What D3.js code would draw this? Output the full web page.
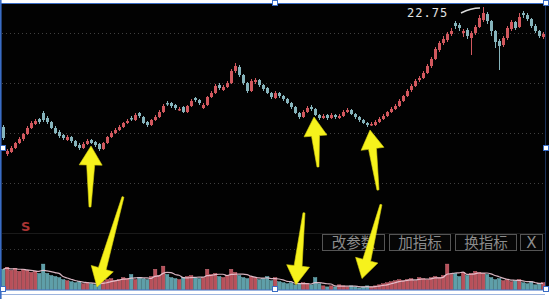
<!DOCTYPE html>
<html><head><meta charset="utf-8">
<script src="https://cdn.jsdelivr.net/npm/d3@7"></script>
<style>html,body{margin:0;padding:0;background:#000;overflow:hidden}</style>
</head><body><svg id="c" width="549" height="299"></svg>
<script>
const opens=[16.75,15.40,15.50,15.70,15.95,16.15,16.40,16.70,16.90,17.15,
17.45,17.20,17.00,16.70,16.50,16.35,16.10,16.25,16.05,15.85,
15.70,15.90,16.10,16.00,15.90,15.65,15.95,16.25,16.45,16.60,
16.75,16.95,17.20,17.10,17.45,17.25,17.00,16.85,17.10,17.25,
17.50,17.95,17.95,17.85,17.60,17.75,17.50,17.80,18.20,18.10,
17.70,17.85,18.25,18.45,18.85,18.60,18.75,18.95,19.55,19.75,
19.35,18.95,18.55,19.00,19.10,18.85,18.70,18.45,18.20,18.45,
18.30,18.15,17.95,17.75,17.45,17.25,17.50,17.75,17.65,17.35,
17.20,17.35,17.20,17.35,17.20,17.30,17.50,17.60,17.40,17.25,
17.10,16.95,16.85,16.85,17.00,17.15,17.30,17.50,17.65,17.80,
18.05,18.30,18.60,18.80,19.10,19.20,19.45,19.80,20.15,20.60,
20.95,21.10,21.40,21.95,21.85,21.45,21.60,21.20,21.45,21.75,
22.10,22.40,22.05,21.55,21.05,20.85,21.20,21.65,22.00,21.75,
22.45,22.35,22.15,21.80,21.55,21.25];
const closes=[16.20,15.55,15.70,15.95,16.15,16.40,16.70,16.95,17.05,17.00,
17.10,17.00,16.70,16.45,16.30,16.20,16.25,16.05,15.80,15.70,
15.90,16.05,15.95,15.85,15.65,15.95,16.25,16.45,16.60,16.75,
16.95,17.05,17.15,17.35,17.30,16.95,16.85,17.10,17.25,17.50,
17.80,17.90,17.80,17.70,17.65,17.50,17.80,18.05,18.10,17.95,
17.85,18.25,18.45,18.80,18.70,18.75,18.95,19.55,19.80,19.35,
18.95,18.55,19.05,19.10,18.85,18.65,18.45,18.25,18.45,18.30,
18.15,17.95,17.75,17.45,17.25,17.50,17.70,17.65,17.35,17.20,
17.30,17.20,17.35,17.25,17.30,17.50,17.60,17.40,17.25,17.10,
16.95,16.85,16.90,17.00,17.15,17.30,17.50,17.65,17.80,18.05,
18.30,18.55,18.80,19.05,19.20,19.45,19.80,20.15,20.65,20.95,
21.15,21.40,21.55,21.80,21.70,21.55,21.30,21.45,21.75,22.20,
22.45,22.05,21.55,21.00,20.80,21.20,21.70,22.00,21.70,22.25,
22.35,22.15,21.80,21.55,21.30,21.40];
const highs=[16.85,15.65,15.80,16.00,16.25,16.45,16.80,17.05,17.15,17.20,
17.55,17.30,17.05,16.80,16.60,16.40,16.35,16.30,16.10,15.95,
16.00,16.15,16.15,16.05,15.95,16.00,16.30,16.55,16.70,16.85,
17.00,17.15,17.30,17.45,17.50,17.30,17.05,17.15,17.35,17.60,
17.90,18.05,18.00,17.90,17.75,17.80,17.85,18.15,18.25,18.15,
17.95,18.30,18.55,18.90,18.95,18.85,19.05,19.65,19.95,19.85,
19.40,19.00,19.15,19.20,19.15,18.90,18.75,18.50,18.55,18.50,
18.35,18.20,18.00,17.80,17.50,17.60,17.80,17.85,17.70,17.40,
17.40,17.40,17.45,17.40,17.40,17.60,17.70,17.65,17.45,17.30,
17.15,17.00,17.00,17.10,17.25,17.40,17.55,17.75,17.90,18.15,
18.35,18.65,18.90,19.15,19.30,19.55,19.90,20.25,20.75,21.05,
21.30,21.50,21.70,22.05,21.95,21.65,21.70,21.55,21.85,22.35,
22.75,22.50,22.10,21.60,21.15,21.30,21.80,22.10,22.05,22.45,
22.55,22.45,22.20,21.90,21.60,21.50];
const lows=[16.10,15.30,15.45,15.65,15.90,16.05,16.35,16.65,16.85,16.90,
17.00,16.90,16.65,16.40,16.20,16.10,16.05,15.95,15.75,15.60,
15.65,15.85,15.90,15.75,15.55,15.60,15.90,16.20,16.40,16.55,
16.70,16.90,17.05,17.05,17.20,16.90,16.75,16.80,17.05,17.20,
17.45,17.80,17.70,17.60,17.55,17.45,17.45,17.75,18.00,17.85,
17.65,17.80,18.20,18.40,18.60,18.55,18.70,18.90,19.45,19.25,
18.85,18.45,18.50,18.90,18.75,18.55,18.40,18.15,18.15,18.20,
18.05,17.90,17.65,17.40,17.15,17.20,17.45,17.55,17.30,17.10,
17.15,17.10,17.15,17.15,17.15,17.25,17.45,17.35,17.15,17.00,
16.90,16.75,16.80,16.80,16.95,17.10,17.25,17.45,17.60,17.75,
18.00,18.25,18.50,18.75,19.00,19.15,19.40,19.70,20.10,20.50,
20.85,21.00,21.30,21.65,21.55,21.25,21.15,20.35,21.35,21.70,
22.00,21.90,21.30,20.70,19.60,20.75,21.10,21.55,21.60,21.70,
22.20,22.05,21.70,21.45,21.20,21.15];
const volumes=[20,22,19,21,18,20,19,17,18,16,
25,16,14,13,12,10,9,8,7,8,
6,7,6,5,6,8,10,11,9,10,
12,11,15,10,12,11,10,13,20,14,
23,15,12,11,10,12,13,14,12,11,
12,20,15,16,13,12,14,20,17,14,
12,11,13,12,10,11,13,9,12,8,
7,6,7,5,6,7,6,5,12,6,
4,3,4,3,5,4,3,4,3,2,
3,4,3,4,5,6,7,8,9,10,
9,10,11,9,12,11,10,12,13,12,
14,25,15,16,13,17,14,16,18,17,
16,15,12,10,11,9,10,8,9,10,
7,6,8,5,6,7];
const highLabel="22.75";
const buttonLabels=["改参数","加指标","换指标","X"];
const signalLabel="S";
// arrow annotations: tip at [candle index, value] in price or volume panel
const arrowPanels=["price","volume","price","price","volume","volume"];
const arrowTipIndex=[22,23.5,77.75,91.75,73.25,89.75];
const arrowTipValue=[15.80,3,17.25,16.60,5,11];

const svg=d3.select("#c");
const W=549,H=299;
svg.append("rect").attr("width",W).attr("height",H).attr("fill","#020202");

const n=closes.length;
const x=d3.scaleLinear().domain([0,n-1]).range([3,543]);
const y=d3.scaleLinear().domain([13.1,23.1]).range([200,0]);
const yv=d3.scaleLinear().domain([0,27]).range([290,262]);

const UP="#d2585e",DOWN="#86b4bc",VUP="#b9505a",VDOWN="#5e9fa9";

// grid lines
const g=svg.append("g");
[33,83,133,183].forEach(gy=>g.append("line").attr("x1",2).attr("x2",545).attr("y1",gy+.5).attr("y2",gy+.5)
  .attr("stroke","#404040").attr("stroke-dasharray","1,3"));
g.append("line").attr("x1",2).attr("x2",545).attr("y1",233.5).attr("y2",233.5).attr("stroke","#1a1a1a");
g.append("line").attr("x1",2).attr("x2",320).attr("y1",249.5).attr("y2",249.5).attr("stroke","#383838").attr("stroke-dasharray","1,3");

// candles
const data=d3.range(n).map(i=>({i,o:opens[i],c:closes[i],h:highs[i],l:lows[i],v:volumes[i]}));
const cg=svg.append("g");
cg.selectAll("line.w").data(data).join("line").attr("class","w")
  .attr("x1",d=>x(d.i)+.5).attr("x2",d=>x(d.i)+.5).attr("y1",d=>y(d.h)).attr("y2",d=>y(d.l))
  .attr("stroke",d=>d.c>=d.o?UP:DOWN).attr("stroke-width",1);
cg.selectAll("rect.b").data(data).join("rect").attr("class","b")
  .attr("x",d=>x(d.i)-1).attr("width",3)
  .attr("y",d=>y(Math.max(d.o,d.c))).attr("height",d=>Math.max(1.5,Math.abs(y(d.o)-y(d.c))))
  .attr("fill",d=>d.c>=d.o?UP:DOWN);

// high label
const hi=d3.maxIndex(highs);
svg.append("text").attr("x",407).attr("y",17).text(highLabel)
  .attr("fill","#e4e4e4").attr("font-family","DejaVu Sans Mono").attr("font-size",12).attr("letter-spacing","1px");
svg.append("path").attr("d",`M${x(hi)-22},${y(highs[hi])+6} Q${x(hi)-12},${y(highs[hi])+1} ${x(hi)-3},${y(highs[hi])+1}`)
  .attr("fill","none").attr("stroke","#dcdcdc").attr("stroke-width",1.5);

// signal label
svg.append("text").attr("x",21).attr("y",231).text(signalLabel).attr("fill","#a83434")
  .attr("font-family","DejaVu Sans").attr("font-size",13).attr("font-weight","bold");

// volume bars
const vg=svg.append("g");
vg.selectAll("rect").data(data).join("rect")
  .attr("x",d=>x(d.i)-1.5).attr("width",3.4)
  .attr("y",d=>yv(d.v)).attr("height",d=>yv(0)-yv(d.v))
  .attr("fill",d=>d.c>=d.o?VUP:VDOWN).attr("stroke",d=>d.c>=d.o?"#d87c86":"#7cc0c8").attr("stroke-width",0.4);
const ma=data.map((d,i)=>{const s=volumes.slice(Math.max(0,i-4),i+1);return [x(d.i),yv(d3.mean(s))];});
vg.append("path").attr("d",d3.line().curve(d3.curveMonotoneX)(ma)).attr("fill","none")
  .attr("stroke","#ecc6d4").attr("stroke-width",1.2).attr("opacity",0.9);

// buttons
const bx=[322,389,455,520],bw=[62,61,61,22];
buttonLabels.forEach((t,k)=>{
  svg.append("rect").attr("x",bx[k]+.5).attr("y",234.5).attr("width",bw[k]).attr("height",16)
    .attr("fill","#060606").attr("stroke","#555").attr("stroke-width",1);
  svg.append("text").attr("x",bx[k]+bw[k]/2+.5).attr("y",248).attr("text-anchor","middle").text(t)
    .attr("fill","#8c8c8c").attr("font-family",k===3?"DejaVu Sans":"Noto Sans CJK SC")
    .attr("font-size",k===3?15:14.5);
});

// frame
svg.append("rect").attr("x",0).attr("y",0).attr("width",W).attr("height",3).attr("fill","#fff");
svg.append("line").attr("x1",0).attr("x2",545).attr("y1",3.5).attr("y2",3.5).attr("stroke","#3a6cc4").attr("stroke-width",1);
svg.append("rect").attr("x",0).attr("y",290).attr("width",W).attr("height",9).attr("fill","#fff");
svg.append("line").attr("x1",0).attr("x2",545).attr("y1",290).attr("y2",290).attr("stroke","#3a6cc4").attr("stroke-width",1.2);
svg.append("line").attr("x1",0).attr("x2",545).attr("y1",294.5).attr("y2",294.5).attr("stroke","#9db4de").attr("stroke-width",1);
svg.append("line").attr("x1",0.8).attr("x2",0.8).attr("y1",0).attr("y2",299).attr("stroke","#3a6cc4").attr("stroke-width",1.6);
svg.append("line").attr("x1",545.5).attr("x2",545.5).attr("y1",3).attr("y2",290).attr("stroke","#3a6cc4").attr("stroke-width",0.8).attr("opacity",0.6);
[[0,145],[543,0],[543,145],[0,286],[272,286],[543,286],[272,0]].forEach(([hx,hy])=>{
  svg.append("rect").attr("x",hx+.5).attr("y",hy+.5).attr("width",5).attr("height",5).attr("fill","#fff").attr("stroke","#3a6cc4");
});

// arrows
const tails=[[-1,61],[26,-90],[4,50],[8,60],[8,-72],[19,-74]];
function arrowPath(tx,ty,hx,hy){
  const dx=hx-tx,dy=hy-ty,L=Math.hypot(dx,dy),ux=dx/L,uy=dy/L,px=-uy,py=ux;
  const hl=19,hw=11.5,sw=4,tw=1;
  const bxp=hx-ux*hl,byp=hy-uy*hl;
  const pts=[[tx+px*tw,ty+py*tw],[bxp+px*sw,byp+py*sw],[bxp+px*hw,byp+py*hw],[hx,hy],
    [bxp-px*hw,byp-py*hw],[bxp-px*sw,byp-py*sw],[tx-px*tw,ty-py*tw]];
  return "M"+pts.map(p=>p.join(",")).join("L")+"Z";
}
const ag=svg.append("g");
arrowTipIndex.forEach((ti,k)=>{
  const hx=x(ti),hy=arrowPanels[k]==="price"?y(arrowTipValue[k]):yv(arrowTipValue[k]);
  ag.append("path").attr("d",arrowPath(hx+tails[k][0],hy+tails[k][1],hx,hy))
    .attr("fill","#f6f21c").attr("stroke","#d8d010").attr("stroke-width",0.6);
});
</script></body></html>
